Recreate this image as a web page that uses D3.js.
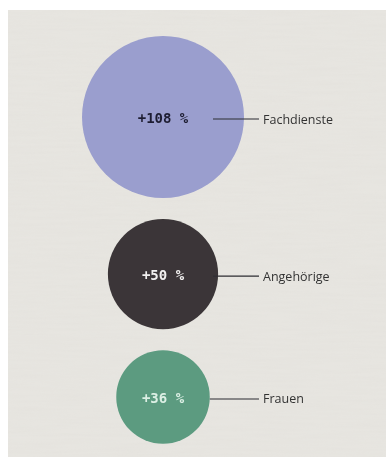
<!DOCTYPE html>
<html><head><meta charset="utf-8">
<script src="https://cdn.jsdelivr.net/npm/d3@7"></script>
<style>
html,body{margin:0;padding:0;background:#fff;}
svg{display:block;}
</style></head>
<body>
<script>
const categories = ["Fachdienste", "Angehörige", "Frauen"];
const values = [108, 50, 36];
const valueLabels = ["+108 %", "+50 %", "+36 %"];
const colors = ["#9a9ece", "#3b3638", "#5b9b80"];
const textColors = ["#1f1f33", "#f2f0f0", "#dcefe4"];

const W = 386, H = 457;
const svg = d3.select("body").append("svg").attr("width", W).attr("height", H);

const defs = svg.append("defs");
const f = defs.append("filter").attr("id","paper").attr("x",0).attr("y",0).attr("width","100%").attr("height","100%");
f.append("feTurbulence").attr("type","fractalNoise").attr("baseFrequency","0.02 0.35").attr("numOctaves",3).attr("seed",4).attr("result","n");
f.append("feColorMatrix").attr("in","n").attr("type","matrix")
 .attr("values","0 0 0 0 0.9  0 0 0 0 0.89  0 0 0 0 0.86  0 0 0 0.35 0");
const blur = defs.append("filter").attr("id","soft");
blur.append("feGaussianBlur").attr("stdDeviation",0.6);

svg.append("rect").attr("x",8).attr("y",10).attr("width",W-8).attr("height",H-10).attr("fill","#e5e3de");
svg.append("rect").attr("x",8).attr("y",10).attr("width",W-8).attr("height",H-10).attr("filter","url(#paper)").attr("opacity",0.5);

const r = d3.scaleSqrt().domain([0, 108]).range([0, 81]);
const cx = 163, top0 = 36, gap = 21;
let y = top0;
const nodes = values.map((v, i) => {
  const rad = r(v);
  const cy = y + rad;
  y = cy + rad + gap;
  return {cat: categories[i], v, lab: valueLabels[i], rad, cy, i};
});

const g = svg.append("g").attr("filter","url(#soft)");
const item = g.selectAll("g.item").data(nodes).join("g").attr("class","item");
item.append("circle").attr("cx", cx).attr("cy", d => d.cy).attr("r", d => d.rad)
  .attr("fill", (d) => colors[d.i]);
item.append("text").attr("x", cx).attr("y", d => d.cy + 1).attr("text-anchor","middle")
  .attr("dominant-baseline","central")
  .attr("font-family","'DejaVu Sans Mono', monospace").attr("font-weight","bold").attr("font-size",14)
  .attr("fill", d => textColors[d.i]).text(d => d.lab);
item.append("line")
  .attr("x1", d => cx + Math.min(d.rad, 50)).attr("x2", 259)
  .attr("y1", d => d.cy + 2).attr("y2", d => d.cy + 2)
  .attr("stroke","#2e2e33").attr("stroke-width",1.2);
item.append("text").attr("x", 263).attr("y", d => d.cy + 2)
  .attr("dominant-baseline","central")
  .attr("font-family","'Open Sans', sans-serif").attr("font-size",12.5)
  .attr("fill","#333").text(d => d.cat);
</script>
</body></html>
